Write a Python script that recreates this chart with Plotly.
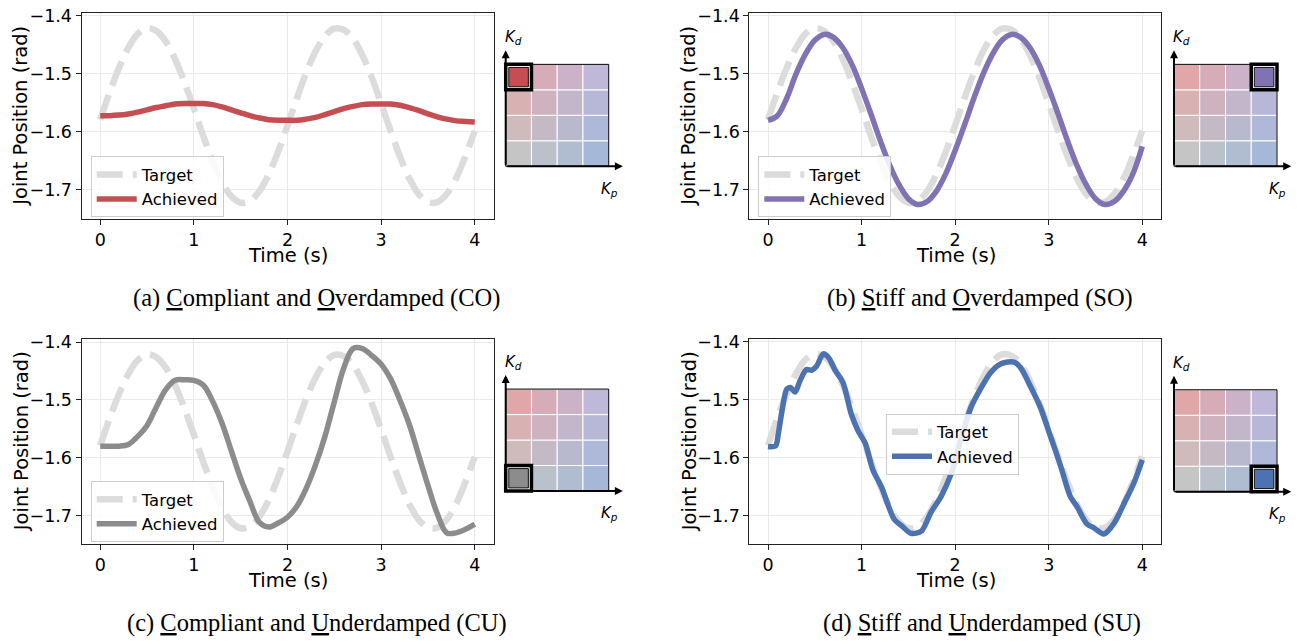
import plotly.graph_objects as go

W, H = 1304, 643

# ---------------- data ----------------
time_s = [0.0, 0.1, 0.2, 0.3, 0.4, 0.5, 0.6, 0.7, 0.8, 0.9, 1.0,
          1.1, 1.2, 1.3, 1.4, 1.5, 1.6, 1.7, 1.8, 1.9, 2.0,
          2.1, 2.2, 2.3, 2.4, 2.5, 2.6, 2.7, 2.8, 2.9, 3.0,
          3.1, 3.2, 3.3, 3.4, 3.5, 3.6, 3.7, 3.8, 3.9, 4.0]

target = [-1.579, -1.532, -1.490, -1.455, -1.431, -1.421, -1.426, -1.444, -1.475, -1.515, -1.560,
          -1.607, -1.650, -1.686, -1.711, -1.722, -1.719, -1.702, -1.673, -1.634, -1.589,
          -1.542, -1.498, -1.461, -1.435, -1.422, -1.424, -1.439, -1.468, -1.506, -1.551,
          -1.598, -1.642, -1.680, -1.707, -1.721, -1.721, -1.707, -1.680, -1.642, -1.598]

achieved_co = [-1.572, -1.572, -1.571, -1.569, -1.566, -1.562, -1.558, -1.555, -1.552, -1.551, -1.551,
               -1.551, -1.553, -1.557, -1.562, -1.567, -1.572, -1.576, -1.579, -1.580, -1.580,
               -1.580, -1.578, -1.575, -1.570, -1.565, -1.560, -1.556, -1.553, -1.552, -1.552,
               -1.552, -1.554, -1.558, -1.563, -1.569, -1.574, -1.578, -1.581, -1.582, -1.583]

achieved_so = [-1.580, -1.572, -1.542, -1.500, -1.466, -1.442, -1.432, -1.437, -1.455, -1.485, -1.525,
               -1.569, -1.615, -1.657, -1.691, -1.715, -1.725, -1.720, -1.702, -1.672, -1.632,
               -1.588, -1.542, -1.500, -1.466, -1.442, -1.432, -1.437, -1.455, -1.485, -1.525,
               -1.569, -1.615, -1.657, -1.691, -1.715, -1.725, -1.720, -1.702, -1.672, -1.625]

achieved_cu = [-1.580, -1.580, -1.580, -1.577, -1.563, -1.544, -1.512, -1.482, -1.466, -1.465, -1.466,
               -1.474, -1.502, -1.540, -1.588, -1.636, -1.676, -1.712, -1.720, -1.713, -1.703,
               -1.684, -1.653, -1.612, -1.563, -1.503, -1.445, -1.411, -1.411, -1.423, -1.438,
               -1.463, -1.500, -1.542, -1.595, -1.648, -1.697, -1.730, -1.730, -1.724, -1.715]

time_su = [0.0, 0.08, 0.11, 0.15, 0.20, 0.24, 0.29, 0.34, 0.41, 0.47, 0.52, 0.59, 0.65, 0.72, 0.80,
           0.89, 0.96, 1.04, 1.12, 1.21, 1.35, 1.43, 1.53, 1.64, 1.74, 1.85, 1.96, 2.06, 2.17,
           2.28, 2.38, 2.49, 2.63, 2.70, 2.81, 2.91, 3.02, 3.13, 3.23, 3.30, 3.41, 3.48, 3.59,
           3.70, 3.80, 3.91, 4.0]
achieved_su = [-1.581, -1.580, -1.559, -1.519, -1.482, -1.479, -1.487, -1.468, -1.448, -1.449, -1.442,
               -1.421, -1.428, -1.450, -1.470, -1.525, -1.553, -1.576, -1.621, -1.650, -1.707,
               -1.718, -1.731, -1.727, -1.695, -1.667, -1.627, -1.570, -1.513, -1.479, -1.453,
               -1.438, -1.435, -1.445, -1.479, -1.513, -1.564, -1.616, -1.667, -1.684, -1.715,
               -1.721, -1.732, -1.713, -1.681, -1.644, -1.604]

x_tick_vals = [0, 1, 2, 3, 4]
x_tick_text = ["0", "1", "2", "3", "4"]
y_tick_vals = [-1.4, -1.5, -1.6, -1.7]
y_tick_text = ["\u22121.4", "\u22121.5", "\u22121.6", "\u22121.7"]

legend_names = ["Target", "Achieved"]
captions = [
    "(a) <u>C</u>ompliant and <u>O</u>verdamped (CO)",
    "(b) <u>S</u>tiff and <u>O</u>verdamped (SO)",
    "(c) <u>C</u>ompliant and <u>U</u>nderdamped (CU)",
    "(d) <u>S</u>tiff and <u>U</u>nderdamped (SU)",
]
series_colors = ["#C44E52", "#8172B3", "#8C8C8C", "#4C72B0"]
# corner colours of the gain map: (low Kp, low Kd), (high Kp, low Kd), (low Kp, high Kd), (high Kp, high Kd)
corner_bl, corner_br, corner_tl, corner_tr = "#8C8C8C", "#4C72B0", "#C44E52", "#8172B3"
highlight_cells = [(0, 3), (3, 3), (0, 0), (3, 0)]  # (Kp index, Kd index)

# ---------------- layout geometry (px) ----------------
DY = -4  # compensation of the page offset
panels = [
    dict(plot=(81.5, 493.5, 10, 218.3), inset=(505.7, 165.0), legend=(90.7, 155), cap=(316.5, 298),
         ytitle=(21, 115), xtitle=(287.5, 255)),
    dict(plot=(749.3, 1161, 10, 218.3), inset=(1174.0, 165.0), legend=(758.3, 155), cap=(979.5, 298),
         ytitle=(689, 115), xtitle=(955.6, 255)),
    dict(plot=(81.5, 493.5, 340, 547.3), inset=(505.7, 493.3), legend=(90.7, 483.3), cap=(317, 627),
         ytitle=(21, 444), xtitle=(287.5, 584)),
    dict(plot=(749.3, 1161, 339.5, 547.3), inset=(1174.0, 494.0), legend=(886, 415), cap=(982, 627),
         ytitle=(689, 444), xtitle=(955.6, 584)),
]
CELL = 25.75
IX = (-0.5, 5.0)
IY = (-1.2, 5.6)


def py(v):
    return 1 - (v + DY) / H


def hex_rgb(h):
    h = h.lstrip("#")
    return [int(h[i:i + 2], 16) for i in (0, 2, 4)]


def cell_rgb(i, j):
    u, v = i / 3.0, j / 3.0
    bl, br, tl, tr = (hex_rgb(c) for c in (corner_bl, corner_br, corner_tl, corner_tr))
    return [round((1 - u) * (1 - v) * bl[k] + u * (1 - v) * br[k] + (1 - u) * v * tl[k] + u * v * tr[k])
            for k in range(3)]


achieved_sets = [(time_s, achieved_co), (time_s, achieved_so), (time_s, achieved_cu), (time_su, achieved_su)]

fig = go.Figure()
shapes = []
annotations = []
layout = {}

TICKFONT = dict(family="DejaVu Sans", size=17.5, color="black")

for k, p in enumerate(panels):
    n = k + 1
    xa, ya = ("x" if n == 1 else f"x{n}"), ("y" if n == 1 else f"y{n}")
    leg = "legend" if n == 1 else f"legend{n}"
    px0, px1, py0, py1 = p["plot"]
    smooth = 0.8 if n == 4 else 1.0

    fig.add_trace(go.Scatter(x=time_s, y=target, mode="lines", name=legend_names[0],
                             line=dict(color="#DCDCDC", width=6.5, dash="26px,10px", shape="spline", smoothing=1.0),
                             xaxis=xa, yaxis=ya, legend=leg, hoverinfo="skip"))
    tx, ty = achieved_sets[k]
    fig.add_trace(go.Scatter(x=tx, y=ty, mode="lines", name=legend_names[1],
                             line=dict(color=series_colors[k], width=5.5, shape="spline", smoothing=smooth),
                             xaxis=xa, yaxis=ya, legend=leg, hoverinfo="skip"))

    ax_common = dict(showline=True, linecolor="#222222", linewidth=1, mirror=True,
                     ticks="outside", ticklen=5, tickwidth=1, tickcolor="#222222",
                     showgrid=True, gridcolor="#EAEAEA", gridwidth=1, zeroline=False,
                     tickfont=TICKFONT)
    layout[f"xaxis{n}"] = dict(domain=[px0 / W, px1 / W], range=[-0.2, 4.2], anchor=ya,
                               tickvals=x_tick_vals, ticktext=x_tick_text, **ax_common)
    layout[f"yaxis{n}"] = dict(domain=[py(py1), py(py0)], range=[-1.75, -1.395], anchor=xa,
                               tickvals=y_tick_vals, ticktext=y_tick_text, **ax_common)

    lx, ly = p["legend"]
    layout[leg] = dict(x=lx / W, y=py(ly), xanchor="left", yanchor="top",
                       bgcolor="rgba(255,255,255,0.85)", bordercolor="#CCCCCC", borderwidth=1,
                       font=dict(family="DejaVu Sans", size=16.5, color="black"),
                       itemwidth=40, tracegroupgap=0)

    # axis titles and caption
    annotations.append(dict(text="Joint Position (rad)", x=p["ytitle"][0] / W, y=py(p["ytitle"][1]),
                            xref="paper", yref="paper", showarrow=False, textangle=-90,
                            font=dict(family="DejaVu Sans", size=19.5, color="black"),
                            xanchor="center", yanchor="middle"))
    annotations.append(dict(text="Time (s)", x=p["xtitle"][0] / W, y=py(p["xtitle"][1]),
                            xref="paper", yref="paper", showarrow=False,
                            font=dict(family="DejaVu Sans", size=19.5, color="black"),
                            xanchor="center", yanchor="middle"))
    annotations.append(dict(text=captions[k], x=p["cap"][0] / W, y=py(p["cap"][1]),
                            xref="paper", yref="paper", showarrow=False,
                            font=dict(family="Liberation Serif", size=24.5, color="black"),
                            xanchor="center", yanchor="middle"))

    # ---- inset gain map ----
    m = n + 4
    ixa, iya = f"x{m}", f"y{m}"
    ox, oy = p["inset"]
    layout[f"xaxis{m}"] = dict(domain=[(ox + IX[0] * CELL) / W, (ox + IX[1] * CELL) / W], range=list(IX),
                               visible=False, anchor=iya, fixedrange=True)
    layout[f"yaxis{m}"] = dict(domain=[py(oy - IY[0] * CELL), py(oy - IY[1] * CELL)],
                               range=list(IY), visible=False, anchor=ixa, fixedrange=True)
    hi, hj = highlight_cells[k]
    for i in range(4):
        for j in range(4):
            r, g, b = cell_rgb(i, j)
            shapes.append(dict(type="rect", xref=ixa, yref=iya, x0=i, x1=i + 1, y0=j, y1=j + 1,
                               fillcolor=f"rgba({r},{g},{b},0.5)", line=dict(color="white", width=1),
                               layer="above"))
    shapes.append(dict(type="rect", xref=ixa, yref=iya, x0=0, x1=4, y0=0, y1=4,
                       fillcolor="rgba(0,0,0,0)", line=dict(color="black", width=1), layer="above"))
    r, g, b = cell_rgb(hi, hj)
    shapes.append(dict(type="rect", xref=ixa, yref=iya, x0=hi, x1=hi + 1, y0=hj, y1=hj + 1,
                       fillcolor="white", line=dict(color="black", width=3.5), layer="above"))
    shapes.append(dict(type="rect", xref=ixa, yref=iya, x0=hi + 0.12, x1=hi + 0.88, y0=hj + 0.12, y1=hj + 0.88,
                       fillcolor=f"rgb({r},{g},{b})", line=dict(color="#111111", width=1), layer="above"))
    # arrows (axes of the gain map)
    annotations.append(dict(x=0, y=4.55, ax=0, ay=0, xref=ixa, yref=iya, axref=ixa, ayref=iya, text="",
                            showarrow=True, arrowhead=2, arrowsize=0.8, arrowwidth=2, arrowcolor="black"))
    annotations.append(dict(x=4.55, y=0, ax=0, ay=0, xref=ixa, yref=iya, axref=ixa, ayref=iya, text="",
                            showarrow=True, arrowhead=2, arrowsize=0.8, arrowwidth=2, arrowcolor="black"))
    annotations.append(dict(text="<i>K</i><sub><i>d</i></sub>", x=-0.12, y=5.05, xref=ixa, yref=iya,
                            showarrow=False, xanchor="left", yanchor="middle",
                            font=dict(family="DejaVu Sans", size=15, color="black")))
    annotations.append(dict(text="<i>K</i><sub><i>p</i></sub>", x=3.62, y=-0.9, xref=ixa, yref=iya,
                            showarrow=False, xanchor="left", yanchor="middle",
                            font=dict(family="DejaVu Sans", size=15, color="black")))

fig.update_layout(
    width=W, height=H, margin=dict(l=0, r=0, t=0, b=0),
    paper_bgcolor="white", plot_bgcolor="rgba(0,0,0,0)",
    shapes=shapes, annotations=annotations, **layout,
)

fig.write_html("out.html", config={"displayModeBar": False},
               post_script="document.body.style.margin='0px';document.body.style.padding='0px';")
